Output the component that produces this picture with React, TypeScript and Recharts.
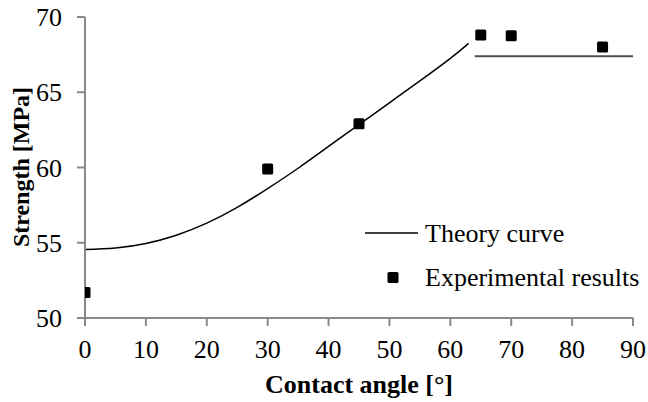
import React from "react";
import { ComposedChart, Line, Scatter, XAxis, YAxis } from "recharts";

const theoryCurve = [
  { x: 0, y: 54.55 },
  { x: 5, y: 54.65 },
  { x: 10, y: 54.95 },
  { x: 15, y: 55.5 },
  { x: 20, y: 56.3 },
  { x: 25, y: 57.35 },
  { x: 30, y: 58.6 },
  { x: 35, y: 59.95 },
  { x: 40, y: 61.4 },
  { x: 45, y: 62.85 },
  { x: 50, y: 64.3 },
  { x: 55, y: 65.75 },
  { x: 60, y: 67.25 },
  { x: 63, y: 68.25 },
];

const plateau = [
  { x: 64, y: 67.4 },
  { x: 90, y: 67.4 },
];

const experimental = [
  { x: 0, y: 51.7 },
  { x: 30, y: 59.9 },
  { x: 45, y: 62.9 },
  { x: 65, y: 68.8 },
  { x: 70, y: 68.75 },
  { x: 85, y: 68.0 },
];

const legendLabels = ["Theory curve", "Experimental results"];

const xTicks = [0, 10, 20, 30, 40, 50, 60, 70, 80, 90];
const yTicks = [50, 55, 60, 65, 70];

const FONT = "'Liberation Serif', 'Times New Roman', serif";
const AXIS = "#898989";

const SquareMarker = (props: any) => {
  const { cx, cy } = props;
  return <rect x={cx - 5.5} y={cy - 5.5} width={11} height={11} rx={1.5} fill="#000" />;
};

const LegendOverlay = () => (
  <svg
    width={290}
    height={80}
    style={{ position: "absolute", left: 365, top: 220, overflow: "visible" }}
  >
    <line x1={0} y1={13} x2={53} y2={13} stroke="#000" strokeWidth={1.5} />
    <text x={60} y={22} fontFamily={FONT} fontSize={26} fill="#000">
      {legendLabels[0]}
    </text>
    <rect x={22.5} y={52} width={11} height={11} rx={1.5} fill="#000" />
    <text x={60} y={66} fontFamily={FONT} fontSize={26} fill="#000">
      {legendLabels[1]}
    </text>
  </svg>
);

export default function App() {
  return (
    <div style={{ position: "absolute", left: 0, top: 0, width: 648, height: 402, background: "#fff" }}>
      <ComposedChart
        width={648}
        height={402}
        margin={{ top: 17, right: 15, left: 0, bottom: 0 }}
      >
        <XAxis
          type="number"
          dataKey="x"
          domain={[0, 90]}
          ticks={xTicks}
          allowDataOverflow
          height={84}
          stroke={AXIS}
          strokeWidth={2}
          tickSize={8}
          tickMargin={14}
          tick={{ fill: "#000", fontSize: 26, fontFamily: FONT }}
          label={{
            content: () => (
              <text
                x={359}
                y={393}
                textAnchor="middle"
                fontFamily={FONT}
                fontSize={26}
                fontWeight="bold"
                fill="#000"
              >
                Contact angle [°]
              </text>
            ),
          }}
        />
        <YAxis
          type="number"
          dataKey="y"
          domain={[50, 70]}
          ticks={yTicks}
          allowDataOverflow
          width={85}
          stroke={AXIS}
          strokeWidth={2}
          tickSize={8}
          tickMargin={15}
          tick={{ fill: "#000", fontSize: 26, fontFamily: FONT }}
          label={{
            content: () => (
              <text
                x={29}
                y={167}
                transform="rotate(-90 29 167)"
                textAnchor="middle"
                fontFamily={FONT}
                fontSize={24}
                fontWeight="bold"
                fill="#000"
              >
                Strength [MPa]
              </text>
            ),
          }}
        />
        <Line
          data={theoryCurve}
          dataKey="y"
          type="natural"
          stroke="#000"
          strokeWidth={1.5}
          dot={false}
          activeDot={false}
          isAnimationActive={false}
          name={legendLabels[0]}
        />
        <Line
          data={plateau}
          dataKey="y"
          type="linear"
          stroke="#505050"
          strokeWidth={2}
          dot={false}
          activeDot={false}
          isAnimationActive={false}
          legendType="none"
        />
        <Scatter
          data={experimental}
          dataKey="y"
          shape={<SquareMarker />}
          isAnimationActive={false}
          name={legendLabels[1]}
        />
      </ComposedChart>
      <LegendOverlay />
    </div>
  );
}
